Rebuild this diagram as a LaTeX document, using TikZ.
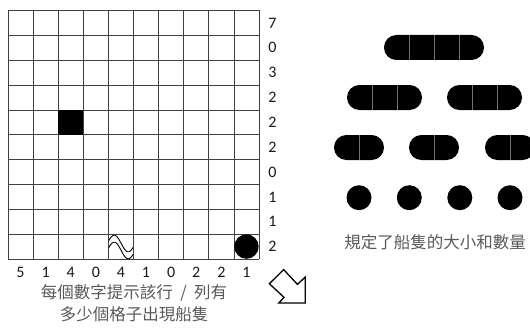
\documentclass[tikz,border=0pt]{standalone}
\usepackage{fontspec}
\setmainfont{Carlito}
\newfontfamily\cjk{Noto Sans CJK TC}
\begin{document}
\begin{tikzpicture}[x=1pt,y=-1pt,
  gridline/.style={draw=black!75, line width=0.7pt},
  num/.style={font=\fontsize{16}{18}\selectfont, text=black!90, inner sep=0pt, anchor=center},
  capt/.style={font=\cjk\fontsize{16.5}{22}\selectfont, text=black!65, align=center, inner sep=0pt},
  ship/.style={fill=black, draw=none, rounded corners=12.4pt},
  seg/.style={draw=black!55, line width=0.5pt},
  wave/.style={draw=black, line width=0.9pt},
  hollowarrow/.style={draw=black, fill=white, line width=1.3pt, line join=miter}
]
\useasboundingbox (0,0) rectangle (530,329);
\clip (0,0) rectangle (530,329);
\def\gx{8}\def\gy{10.5}\def\cw{25.1}\def\ch{24.85}
% grid
\foreach \i in {0,...,10}{
  \draw[gridline] ({\gx+\cw*\i},\gy) -- ({\gx+\cw*\i},{\gy+10*\ch});
  \draw[gridline] (\gx,{\gy+\ch*\i}) -- ({\gx+10*\cw},{\gy+\ch*\i});
}
% black square
\fill[black] ({\gx+2*\cw},{\gy+4*\ch}) rectangle ({\gx+3*\cw},{\gy+5*\ch});
% circle
\fill[black] ({\gx+9.5*\cw},{\gy+9.5*\ch}) circle (12.2);
% waves
\draw[wave] plot[domain=108.8:133, samples=40, smooth] (\x,{243.5-8.3*sin(360*(\x-107.2)/28)});
\draw[wave] plot[domain=108.8:133, samples=40, smooth] (\x,{250.5-8.3*sin(360*(\x-107.2)/28)});
% row labels
\foreach \v [count=\i from 0] in {7,0,3,2,2,2,0,1,1,2}{
  \node[num] (r\i) at (272.5,{\gy+(\i+0.5)*\ch}) {\v};
}
% column labels
\foreach \v [count=\i from 0] in {5,1,4,0,4,1,0,2,2,1}{
  \node[num] (c\i) at ({\gx+(\i+0.5)*\cw},272) {\v};
}
% caption
\node[capt] (caption) at (134,303.5) {每個數字提示該行\hspace{0.45em}/\hspace{0.45em}列有\\多少個格子出現船隻};
% hollow arrow
\draw[hollowarrow] (305.3,303) -- (278.8,303) -- (284,297.4) -- (269.4,283.7) -- (283.7,269.6) -- (297.4,284.4) -- (305.3,277) -- cycle;
% ships: battleship
\fill[ship] (384,35) rectangle (484,60);
\foreach \xx in {409.3,434.3,459.3}{\draw[seg] (\xx,35) -- (\xx,60);}
% cruisers
\foreach \sx in {347,447}{
  \fill[ship] (\sx,85) rectangle ({\sx+75},110);
  \draw[seg] ({\sx+25},85) -- ({\sx+25},110);
  \draw[seg] ({\sx+50},85) -- ({\sx+50},110);
}
% destroyers
\foreach \sx in {334,409,485}{
  \fill[ship] (\sx,135) rectangle ({\sx+50},160);
  \draw[seg] ({\sx+25},135) -- ({\sx+25},160);
}
% submarines
\foreach \sx in {359,409.3,459.8,510}{
  \fill[black] (\sx,197.7) circle (12.5);
}
\node[capt] (rules) at (435,242) {規定了船隻的大小和數量};
\end{tikzpicture}
\end{document}
